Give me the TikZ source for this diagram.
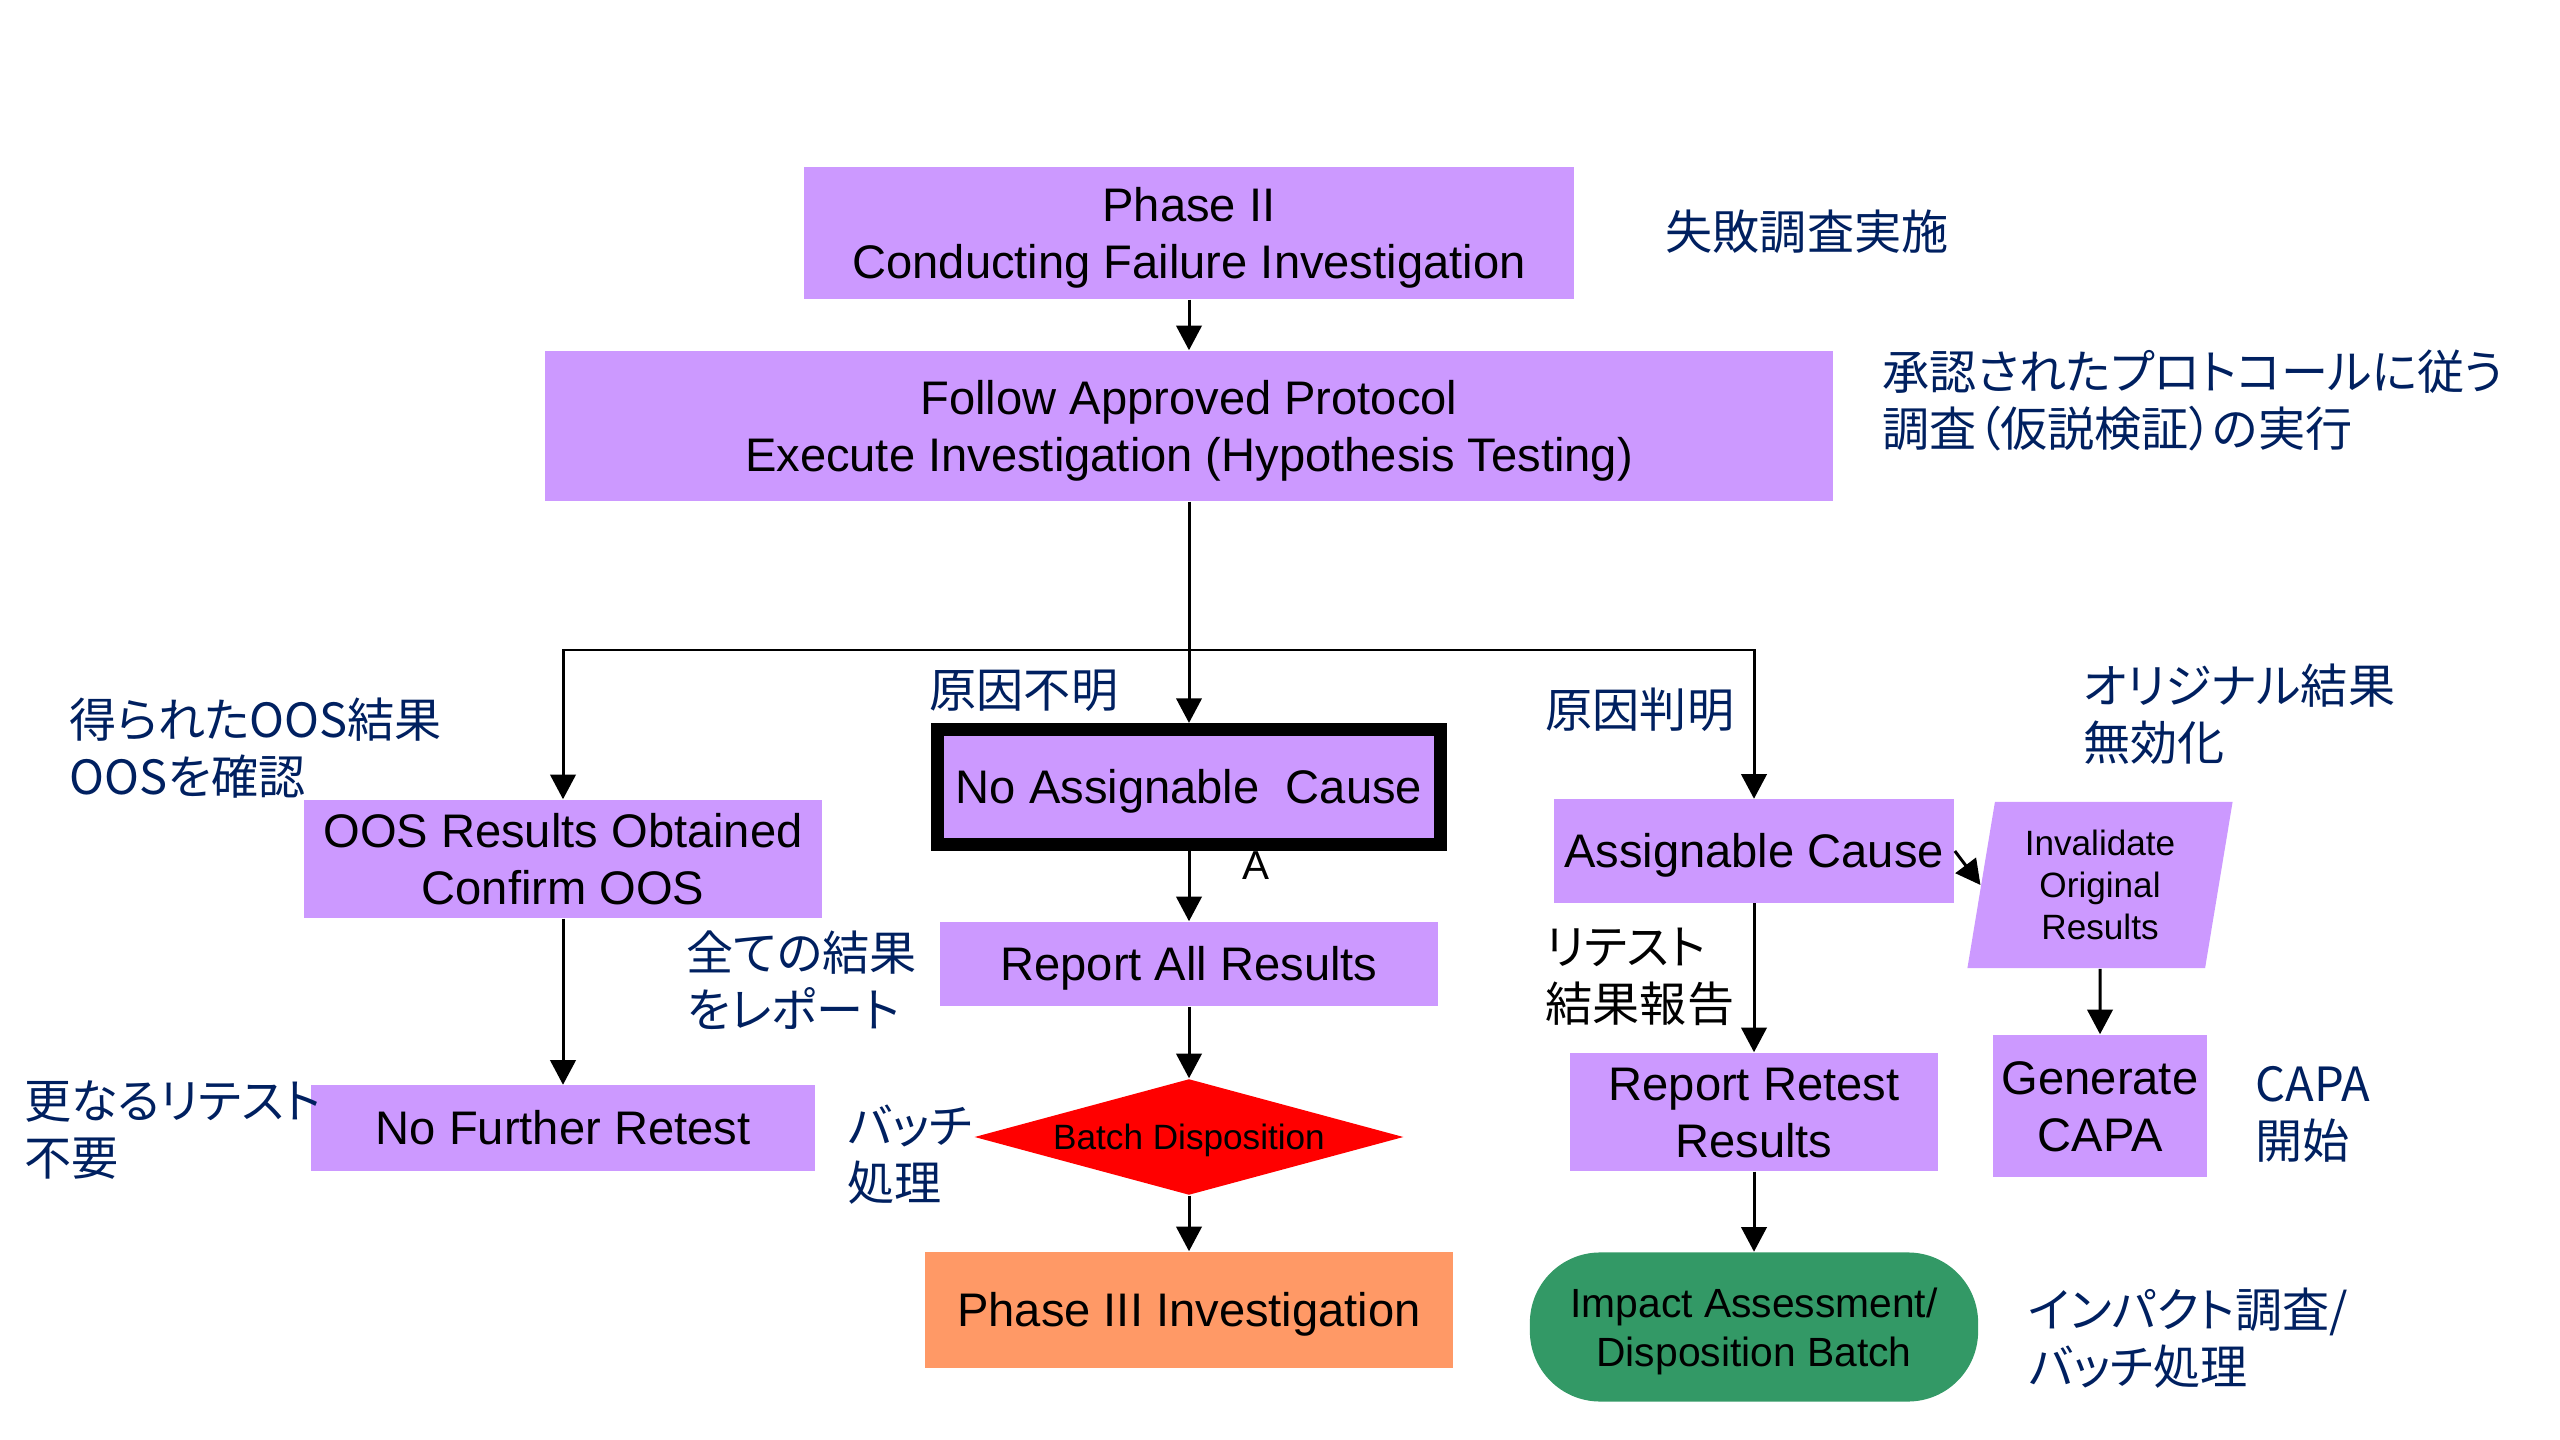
\documentclass[tikz,border=0pt]{standalone}
\usepackage{fontspec}
\setmainfont{Liberation Sans}
\newfontfamily\jpfont[RawFeature=+palt]{Noto Sans CJK JP}
\usetikzlibrary{shapes.geometric, arrows.meta, positioning}
\definecolor{boxviolet}{RGB}{204,153,255}
\definecolor{jpnavy}{RGB}{0,32,96}
\definecolor{phaseorange}{RGB}{255,153,102}
\definecolor{impactgreen}{RGB}{51,153,102}
\definecolor{alertred}{RGB}{255,0,0}
\newcommand{\firstgap}{\rule{0pt}{0.95em}}
\tikzset{
  stepbox/.style={rectangle, fill=boxviolet, align=center, inner sep=0pt,
    font=\fontsize{13.4}{16.2}\selectfont,
    execute at begin node={\rule{0pt}{0.9em}},
    execute at end node={\rule[-0.21em]{0pt}{0pt}}},
  note/.style={anchor=west, align=left, text=jpnavy, inner sep=0pt,
    font=\jpfont\fontsize{13.4}{16.2}\selectfont},
  flow/.style={-{Triangle[length=7pt, width=7.2pt]}, line width=0.85pt},
}

\begin{document}
\begin{tikzpicture}[x=0.01cm, y=-0.01cm]
    \useasboundingbox (0,0) rectangle (2560,1440);

    % main column
    \node[stepbox, minimum width=7.69cm, minimum height=1.32cm] (phasetwo) at (1189,233)
        {\firstgap Phase II\\Conducting Failure Investigation};
    \node[stepbox, minimum width=12.87cm, minimum height=1.50cm] (protocol) at (1189,426)
        {\firstgap Follow Approved Protocol\\Execute Investigation (Hypothesis Testing)};
    \node[stepbox, draw=black, line width=3.7pt, minimum width=5.02cm, minimum height=1.15cm] (nocause) at (1189,787)
        {No Assignable\ \ Cause};
    \node[stepbox, minimum width=4.98cm, minimum height=0.84cm] (reportall) at (1189,964)
        {Report All Results};
    \node[diamond, aspect=3.7, fill=alertred, inner sep=0pt, minimum width=4.29cm, minimum height=1.16cm,
          font=\fontsize{10}{12}\selectfont, execute at begin node={\rule{0pt}{0.9em}}] (batch) at (1189,1137)
        {Batch Disposition};
    \node[stepbox, fill=phaseorange, minimum width=5.27cm, minimum height=1.16cm] (phasethree) at (1189,1310)
        {Phase III Investigation};
    \node[inner sep=0pt, font=\fontsize{11.5}{12}\selectfont] (marka) at (1256,866) {A};

    % left column
    \node[stepbox, minimum width=5.17cm, minimum height=1.18cm] (oos) at (563,859)
        {\firstgap OOS Results Obtained\\Confirm OOS};
    \node[stepbox, minimum width=5.03cm, minimum height=0.85cm] (noretest) at (563,1128)
        {No Further Retest};

    % right column
    \node[stepbox, minimum width=4.00cm, minimum height=1.03cm] (cause) at (1754,851)
        {Assignable Cause};
    \node[trapezium, trapezium left angle=76, trapezium right angle=104, trapezium stretches body,
          fill=boxviolet, inner sep=0pt, minimum width=2.65cm, minimum height=1.66cm, align=center,
          font=\fontsize{10}{12}\selectfont] (invalid) at (2100,885) {Invalidate\\Original\\Results};
    \node[stepbox, minimum width=2.14cm, minimum height=1.42cm] (capa) at (2100,1106)
        {\firstgap Generate\\CAPA};
    \node[stepbox, minimum width=3.67cm, minimum height=1.18cm] (retest) at (1754,1112)
        {\firstgap Report Retest\\Results};
    \node[rectangle, rounded corners=20pt, fill=impactgreen, inner sep=0pt, minimum width=4.48cm,
          minimum height=1.49cm, align=center, font=\fontsize{11.6}{14}\selectfont] (impact) at (1754,1327)
        {\firstgap Impact Assessment/\\Disposition Batch};

    % japanese notes
    \node[note] (jpphase) at (1665,232) {失敗調査実施};
    \node[note] (jpprotocol) at (1882,400) {承認されたプロトコールに従う\\調査（仮説検証）の実行};
    \node[note] (jpoos) at (69,748) {得られたOOS結果\\OOSを確認};
    \node[note] (jpnocause) at (929,691) {原因不明};
    \node[note] (jpreport) at (686,980) {全ての結果\\をレポート};
    \node[note] (jpnoretest) at (24,1130) {更なるリテスト\\不要};
    \node[note] (jpbatch) at (847,1155) {バッチ\\処理};
    \node[note] (jpcause) at (1545,710) {原因判明};
    \node[note] (jpinvalid) at (2083,714) {オリジナル結果\\無効化};
    \node[note, text=black] (jpretest) at (1545,977) {リテスト\\結果報告};
    \node[note] (jpcapa) at (2255,1114) {CAPA\\開始};
    \node[note] (jpimpact) at (2028,1338) {インパクト調査/\\バッチ処理};

    % connectors
    \coordinate (split) at (1189,650);
    \draw[flow] (phasetwo) -- (protocol);
    \draw[flow] (protocol) -- (nocause);
    \draw[flow] (split) -| (oos);
    \draw[flow] (split) -| (cause);
    \draw[flow] (nocause) -- (reportall);
    \draw[flow] (reportall) -- (batch);
    \draw[flow] (batch) -- (phasethree);
    \draw[flow] (oos) -- (noretest);
    \draw[flow] (cause) -- (retest);
    \draw[flow] (retest) -- (impact);
    \draw[flow] (cause.east) -- (invalid.west);
    \draw[flow] (invalid) -- (capa);
\end{tikzpicture}
\end{document}
